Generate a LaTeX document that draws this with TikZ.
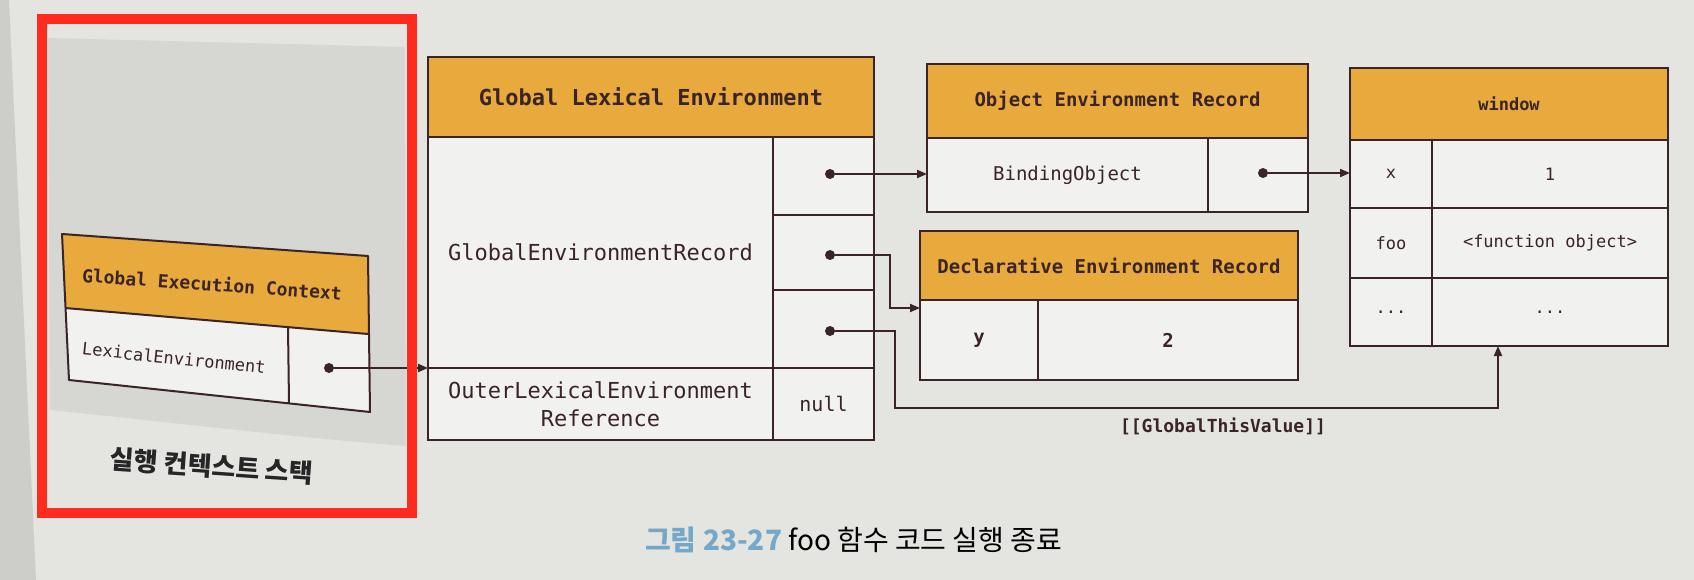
\documentclass[tikz,border=0pt]{standalone}
\usepackage{fontspec}
\setmonofont{DejaVu Sans Mono}
\newfontfamily\krfont{Noto Sans CJK KR}
\usetikzlibrary{arrows.meta,calc}

\definecolor{page}{HTML}{E4E4E1}
\definecolor{pageedge}{HTML}{CDCDC9}
\definecolor{stackbg}{HTML}{D6D6D2}
\definecolor{ink}{HTML}{3A2427}
\definecolor{hdr}{HTML}{E8A93D}
\definecolor{cellbg}{HTML}{F1F1EF}
\definecolor{frame}{HTML}{FF2B1F}
\definecolor{capblue}{HTML}{75A8C8}

\newcommand{\monosz}[1]{\ttfamily\fontsize{#1}{28}\selectfont}

\tikzset{
  box/.style={draw=ink, line width=2pt, inner sep=0pt, outer sep=0pt,
              anchor=north west, text=ink, align=center},
  hdrbox/.style={box, fill=hdr, font=\monosz{19}\bfseries},
  cellbox/.style={box, fill=cellbg, font=\monosz{19}},
  pin/.style={circle, fill=ink, inner sep=0pt, minimum size=10pt},
  link/.style={draw=ink, line width=2pt, line join=miter,
               -{Triangle[length=10pt,width=8pt]}},
  label/.style={text=ink, inner sep=0pt},
}

\begin{document}
\begin{tikzpicture}[x=1pt,y=-1pt]
  % page
  \fill[page] (0,0) rectangle (1694,580);
  \useasboundingbox (0,0) rectangle (1694,580);
  \fill[pageedge] (0,0) -- (9,0) -- (36,580) -- (0,580) -- cycle;

  % execution context stack
  \fill[stackbg] (48,38) -- (405,47) -- (406,446)
    .. controls (300,438) and (150,420) .. (50,410) -- cycle;

  \coordinate (gTL) at (62,234);
  \coordinate (gTR) at (368,256);
  \coordinate (gML) at (65,308);
  \coordinate (gMR) at (368,334);
  \coordinate (gBL) at (69,380);
  \coordinate (gBR) at (370,412);
  \coordinate (gDT) at (288,327);
  \coordinate (gDB) at (289,403);
  \fill[hdr] (gTL) -- (gTR) -- (gMR) -- (gML) -- cycle;
  \fill[cellbg] (gML) -- (gMR) -- (gBR) -- (gBL) -- cycle;
  \draw[ink, line width=2pt, line join=round]
    (gTL) -- (gTR) -- (gBR) -- (gBL) -- cycle
    (gML) -- (gMR)
    (gDT) -- (gDB);
  \node[label, rotate=-4, font=\monosz{18}\bfseries] (gecT) at (212,284) {Global Execution Context};
  \node[label, rotate=-6, font=\monosz{17}] (gecL) at (174,358) {LexicalEnvironment};
  \node[pin] (d0) at (329,368) {};

  \node[text=black!85, rotate=-4, font=\krfont\bfseries\fontsize{26}{30}\selectfont]
    (stackT) at (212,466) {실행 컨텍스트 스택};

  % Global Lexical Environment
  \node[hdrbox, font=\monosz{22}\bfseries, minimum width=446pt, minimum height=80pt]
    (gleH) at (428,57) {Global Lexical Environment};
  \node[cellbox, font=\monosz{22}, minimum width=345pt, minimum height=231pt]
    (gleRec) at (428,137) {GlobalEnvironmentRecord};
  \node[cellbox, minimum width=101pt, minimum height=78pt] (gleS1) at (773,137) {};
  \node[cellbox, minimum width=101pt, minimum height=75pt] (gleS2) at (773,215) {};
  \node[cellbox, minimum width=101pt, minimum height=78pt] (gleS3) at (773,290) {};
  \node[cellbox, font=\monosz{22}, minimum width=345pt, minimum height=72pt]
    (gleOut) at (428,368) {OuterLexicalEnvironment\\Reference};
  \node[cellbox, font=\monosz{20}, minimum width=101pt, minimum height=72pt]
    (gleNull) at (773,368) {null};
  \node[pin] (d1) at (830,174) {};
  \node[pin] (d2) at (830,255) {};
  \node[pin] (d3) at (830,331) {};

  % Object Environment Record
  \node[hdrbox, minimum width=381pt, minimum height=74pt]
    (oerH) at (927,64) {Object Environment Record};
  \node[cellbox, minimum width=281pt, minimum height=74pt]
    (oerKey) at (927,138) {BindingObject};
  \node[cellbox, minimum width=100pt, minimum height=74pt] (oerVal) at (1208,138) {};
  \node[pin] (d4) at (1263,173) {};

  % Declarative Environment Record
  \node[hdrbox, minimum width=378pt, minimum height=69pt]
    (derH) at (920,231) {Declarative Environment Record};
  \node[cellbox, font=\monosz{19}\bfseries, minimum width=118pt, minimum height=80pt]
    (derKey) at (920,300) {y};
  \node[cellbox, font=\monosz{19}\bfseries, minimum width=260pt, minimum height=80pt]
    (derVal) at (1038,300) {2};

  % window object
  \node[hdrbox, font=\monosz{17}\bfseries, minimum width=318pt, minimum height=72pt]
    (winH) at (1350,68) {window};
  \node[cellbox, font=\monosz{17}, minimum width=82pt, minimum height=68pt] (winK1) at (1350,140) {x};
  \node[cellbox, font=\monosz{17}, minimum width=236pt, minimum height=68pt] (winV1) at (1432,140) {1};
  \node[cellbox, font=\monosz{17}, minimum width=82pt, minimum height=70pt] (winK2) at (1350,208) {foo};
  \node[cellbox, font=\monosz{17}, minimum width=236pt, minimum height=70pt] (winV2) at (1432,208) {<function object>};
  \node[cellbox, font=\monosz{17}, minimum width=82pt, minimum height=68pt] (winK3) at (1350,278) {...};
  \node[cellbox, font=\monosz{17}, minimum width=236pt, minimum height=68pt] (winV3) at (1432,278) {...};

  % connectors
  \draw[link] (d0) -- (gleOut.north west);
  \draw[link] (d1) -- (d1 -| oerKey.west);
  \coordinate (bend2) at (890,0);
  \coordinate (in2) at ($(derKey.north west)+(0,8)$);
  \draw[link] (d2) -- (d2 -| bend2) |- (in2);
  \coordinate (bend3) at (895,408);
  \coordinate (up3) at (1498,408);
  \draw[link] (d3) -| (bend3) -- (up3) -- (up3 |- winV3.south);
  \node[label, font=\monosz{18}\bfseries] (gtv) at (1223,426) {[[GlobalThisValue]]};
  \draw[link] (d4) -- (d4 -| winK1.west);

  % red highlight frame
  \draw[frame, line width=10pt] (42,19) rectangle (412,513);

  % caption
  \node[anchor=west, inner sep=0pt, font=\krfont\fontsize{28}{31}\selectfont]
    (cap) at (645,540) {\textcolor{capblue}{\bfseries 그림 23-27}\ foo 함수 코드 실행 종료};
\end{tikzpicture}
\end{document}
